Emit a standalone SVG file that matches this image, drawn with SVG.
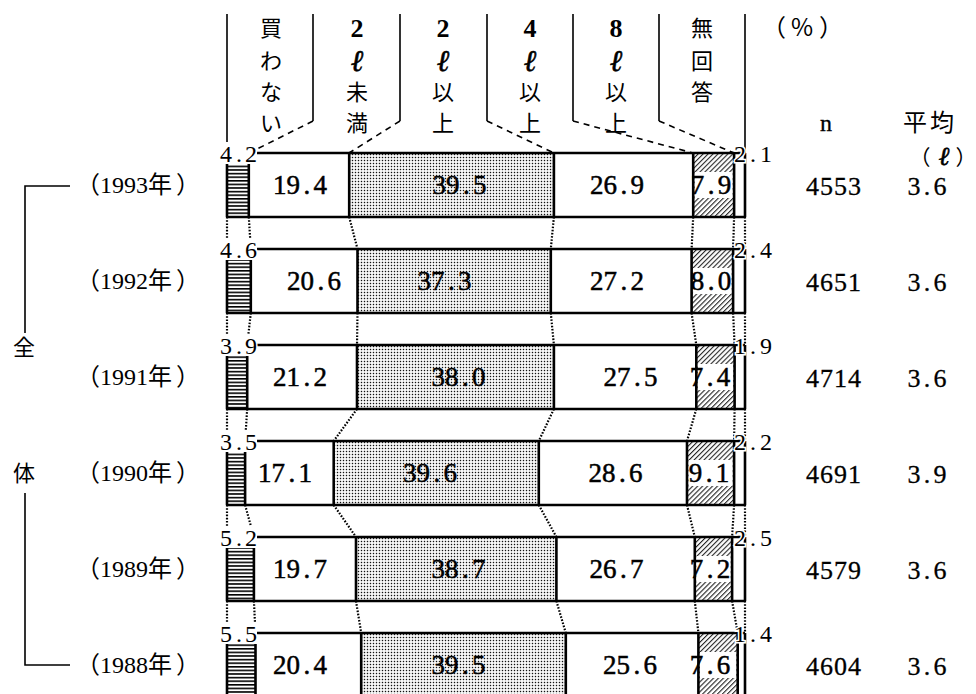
<svg xmlns="http://www.w3.org/2000/svg" width="976" height="694" viewBox="0 0 976 694">
<style>
.bg{fill:#fff}
.ol{fill:none;stroke:#000;stroke-width:2.6}
.thin{fill:none;stroke:#000;stroke-width:1.6}
.dash{fill:none;stroke:#000;stroke-width:1.6;stroke-dasharray:6 5}
.dot{fill:none;stroke:#000;stroke-width:2.2;stroke-dasharray:1.6 1.6}
.num{font-family:'Liberation Serif',serif;font-size:27px;text-anchor:middle;fill:#000;stroke:#000;stroke-width:0.5}
.sm{font-family:'Liberation Serif',serif;font-size:24px;text-anchor:middle;fill:#000;stroke:#fff;stroke-width:3;paint-order:stroke}
.yr{font-family:'Liberation Serif','Noto Sans CJK JP',serif;font-size:24px;fill:#000}
.cj{font-family:'Noto Sans CJK JP',sans-serif;font-size:22px;text-anchor:middle;fill:#000}
.hd{font-family:'Liberation Serif',serif;font-size:26px;font-weight:bold;text-anchor:middle;fill:#000}
.el{font-family:'Liberation Serif',serif;font-size:30px;font-style:italic;text-anchor:middle;fill:#000;stroke:#000;stroke-width:0.6}
.rt{font-family:'Liberation Serif',serif;font-size:26px;text-anchor:middle;fill:#000;stroke:#000;stroke-width:0.3}
</style>
<defs>
<pattern id="stripes" width="6" height="3.6" patternUnits="userSpaceOnUse"><rect width="6" height="1.6" fill="#000"/></pattern>
<pattern id="dots" width="3" height="3" patternUnits="userSpaceOnUse"><rect x="0.8" y="0.8" width="1.4" height="1.4" fill="#111"/></pattern>
<pattern id="diag" width="3.5" height="3.5" patternUnits="userSpaceOnUse" patternTransform="rotate(45)"><rect width="1.1" height="3.5" fill="#222"/></pattern>
</defs>
<rect width="976" height="694" fill="#fff"/>

<g id="header">
<path class="thin" d="M227 14V153M313 14V121M400 14V121M487 14V121M573 14V121M659 14V121M745 14V153"/>
<text class="cj" x="271" y="36">買</text><text class="cj" x="271" y="69">わ</text><text class="cj" x="271" y="100">な</text><text class="cj" x="271" y="131">い</text>
<text class="hd" x="357" y="37">2</text><text class="el" x="357" y="71">ℓ</text><text class="cj" x="357" y="100">未</text><text class="cj" x="357" y="131">満</text>
<text class="hd" x="443" y="37">2</text><text class="el" x="443" y="71">ℓ</text><text class="cj" x="443" y="100">以</text><text class="cj" x="443" y="131">上</text>
<text class="hd" x="530" y="37">4</text><text class="el" x="530" y="71">ℓ</text><text class="cj" x="530" y="100">以</text><text class="cj" x="530" y="131">上</text>
<text class="hd" x="616" y="37">8</text><text class="el" x="616" y="71">ℓ</text><text class="cj" x="616" y="100">以</text><text class="cj" x="616" y="131">上</text>
<text class="cj" x="702" y="36">無</text><text class="cj" x="702" y="69">回</text><text class="cj" x="702" y="100">答</text>
<text class="cj" x="774 802 831" y="36" style="font-size:24px">（%）</text>
<text class="rt" x="826" y="131" style="font-size:24px">n</text>
<text class="cj" x="930" y="131" style="font-size:24px;letter-spacing:3px">平均</text>
<text class="cj" x="920 944 966" y="165" style="font-size:21px">（<tspan class="el" style="font-size:26px">ℓ</tspan>）</text>
</g>

<g id="bracket">
<path class="thin" d="M70 186H25V333M25 493V665H70"/>
<text class="cj" x="24" y="355">全</text>
<text class="cj" x="24" y="481">体</text>
</g>

<g id="connectors">
<path class="dash" d="M313 121L249 153M400 121L349 153M487 121L554 153M573 121L693 153M659 121L734 153"/>
<path class="dot" d="M227 217V249M248.8 217L250.8 249M349.2 217L357.5 249M553.9 217L550.8 249M693.2 217L691.6 249M734.1 217L733.1 249M745 217V249"/>
<path class="dot" d="M227 313V345M250.8 313L247.2 345M357.5 313L357 345M550.8 313L553.9 345M691.6 313L696.3 345M733.1 313L734.6 345M745 313V345"/>
<path class="dot" d="M227 409V441M247.2 409L245.1 441M357 409L333.7 441M553.9 409L538.8 441M696.3 409L687 441M734.6 409L734.1 441M745 409V441"/>
<path class="dot" d="M227 505V537M245.1 505L253.9 537M333.7 505L356 537M538.8 505L556.4 537M687 505L694.8 537M734.1 505L732.1 537M745 505V537"/>
<path class="dot" d="M227 601V633M253.9 601L255.5 633M356 601L361.2 633M556.4 601L565.8 633M694.8 601L698.4 633M732.1 601L737.7 633M745 601V633"/>
</g>

<g id="row-1993">
<rect x="227" y="153" width="21.8" height="64" fill="url(#stripes)"/>
<rect x="349.2" y="153" width="204.7" height="64" fill="url(#dots)"/>
<rect x="693.2" y="153" width="40.9" height="64" fill="url(#diag)"/>
<rect class="bg" x="694.7" y="172" width="37.9" height="26"/>
<path class="ol" d="M227 153H745M227 217H745M227 153V217M248.8 153V217M349.2 153V217M553.9 153V217M693.2 153V217M734.1 153V217M745 153V217"/>
<rect class="bg" x="213" y="142" width="44" height="22"/>
<text class="sm" x="226 239 251" y="162">4.2</text>
<text class="sm" x="740 753 766" y="162">2.1</text>
<text class="yr" x="76" y="193">（1993年<tspan dx="4">）</tspan></text>
<text class="num" x="279.75 293.25 306.75 320.25" y="194">19.4</text>
<text class="num" x="439.25 452.75 466.25 479.75" y="194">39.5</text>
<text class="num" x="596.75 610.25 623.75 637.25" y="194">26.9</text>
<text class="num" x="697.5 711 724.5" y="194">7.9</text>
<text class="rt" x="834" y="195" style="letter-spacing:1px">4553</text>
<text class="rt" x="914 927 940" y="195">3.6</text>
</g>

<g id="row-1992">
<rect x="227" y="249" width="23.8" height="64" fill="url(#stripes)"/>
<rect x="357.5" y="249" width="193.3" height="64" fill="url(#dots)"/>
<rect x="691.6" y="249" width="41.5" height="64" fill="url(#diag)"/>
<rect class="bg" x="693.1" y="268" width="38.5" height="26"/>
<path class="ol" d="M227 249H745M227 313H745M227 249V313M250.8 249V313M357.5 249V313M550.8 249V313M691.6 249V313M733.1 249V313M745 249V313"/>
<rect class="bg" x="213" y="238" width="44" height="22"/>
<text class="sm" x="226 239 251" y="258">4.6</text>
<text class="sm" x="740 753 766" y="258">2.4</text>
<text class="yr" x="76" y="289">（1992年<tspan dx="4">）</tspan></text>
<text class="num" x="293.75 307.25 320.75 334.25" y="290">20.6</text>
<text class="num" x="424.25 437.75 451.25 464.75" y="290">37.3</text>
<text class="num" x="596.75 610.25 623.75 637.25" y="290">27.2</text>
<text class="num" x="697.5 711 724.5" y="290">8.0</text>
<text class="rt" x="834" y="291" style="letter-spacing:1px">4651</text>
<text class="rt" x="914 927 940" y="291">3.6</text>
</g>

<g id="row-1991">
<rect x="227" y="345" width="20.2" height="64" fill="url(#stripes)"/>
<rect x="357" y="345" width="196.9" height="64" fill="url(#dots)"/>
<rect x="696.3" y="345" width="38.3" height="64" fill="url(#diag)"/>
<rect class="bg" x="697.8" y="364" width="35.3" height="26"/>
<path class="ol" d="M227 345H745M227 409H745M227 345V409M247.2 345V409M357 345V409M553.9 345V409M696.3 345V409M734.6 345V409M745 345V409"/>
<rect class="bg" x="213" y="334" width="44" height="22"/>
<text class="sm" x="226 239 251" y="354">3.9</text>
<text class="sm" x="740 753 766" y="354">1.9</text>
<text class="yr" x="76" y="385">（1991年<tspan dx="4">）</tspan></text>
<text class="num" x="279.75 293.25 306.75 320.25" y="386">21.2</text>
<text class="num" x="438.25 451.75 465.25 478.75" y="386">38.0</text>
<text class="num" x="610.25 623.75 637.25 650.75" y="386">27.5</text>
<text class="num" x="696.5 710 723.5" y="386">7.4</text>
<text class="rt" x="834" y="387" style="letter-spacing:1px">4714</text>
<text class="rt" x="914 927 940" y="387">3.6</text>
</g>

<g id="row-1990">
<rect x="227" y="441" width="18.1" height="64" fill="url(#stripes)"/>
<rect x="333.7" y="441" width="205.1" height="64" fill="url(#dots)"/>
<rect x="687" y="441" width="47.1" height="64" fill="url(#diag)"/>
<rect class="bg" x="688.5" y="460" width="44.1" height="26"/>
<path class="ol" d="M227 441H745M227 505H745M227 441V505M245.1 441V505M333.7 441V505M538.8 441V505M687 441V505M734.1 441V505M745 441V505"/>
<rect class="bg" x="213" y="430" width="44" height="22"/>
<text class="sm" x="226 239 251" y="450">3.5</text>
<text class="sm" x="740 753 766" y="450">2.2</text>
<text class="yr" x="76" y="481">（1990年<tspan dx="4">）</tspan></text>
<text class="num" x="264.75 278.25 291.75 305.25" y="482">17.1</text>
<text class="num" x="409.75 423.25 436.75 450.25" y="482">39.6</text>
<text class="num" x="595.25 608.75 622.25 635.75" y="482">28.6</text>
<text class="num" x="695.5 709 722.5" y="482">9.1</text>
<text class="rt" x="834" y="483" style="letter-spacing:1px">4691</text>
<text class="rt" x="914 927 940" y="483">3.9</text>
</g>

<g id="row-1989">
<rect x="227" y="537" width="26.9" height="64" fill="url(#stripes)"/>
<rect x="356" y="537" width="200.4" height="64" fill="url(#dots)"/>
<rect x="694.8" y="537" width="37.3" height="64" fill="url(#diag)"/>
<rect class="bg" x="696.3" y="556" width="34.3" height="26"/>
<path class="ol" d="M227 537H745M227 601H745M227 537V601M253.9 537V601M356 537V601M556.4 537V601M694.8 537V601M732.1 537V601M745 537V601"/>
<rect class="bg" x="213" y="526" width="44" height="22"/>
<text class="sm" x="226 239 251" y="546">5.2</text>
<text class="sm" x="740 753 766" y="546">2.5</text>
<text class="yr" x="76" y="577">（1989年<tspan dx="4">）</tspan></text>
<text class="num" x="279.75 293.25 306.75 320.25" y="578">19.7</text>
<text class="num" x="438.25 451.75 465.25 478.75" y="578">38.7</text>
<text class="num" x="596.25 609.75 623.25 636.75" y="578">26.7</text>
<text class="num" x="696.5 710 723.5" y="578">7.2</text>
<text class="rt" x="834" y="579" style="letter-spacing:1px">4579</text>
<text class="rt" x="914 927 940" y="579">3.6</text>
</g>

<g id="row-1988">
<rect x="227" y="633" width="28.5" height="64" fill="url(#stripes)"/>
<rect x="361.2" y="633" width="204.6" height="64" fill="url(#dots)"/>
<rect x="698.4" y="633" width="39.3" height="64" fill="url(#diag)"/>
<rect class="bg" x="699.9" y="652" width="36.3" height="26"/>
<path class="ol" d="M227 633H745M227 697H745M227 633V697M255.5 633V697M361.2 633V697M565.8 633V697M698.4 633V697M737.7 633V697M745 633V697"/>
<rect class="bg" x="213" y="622" width="44" height="22"/>
<text class="sm" x="226 239 251" y="642">5.5</text>
<text class="sm" x="740 753 766" y="642">1.4</text>
<text class="yr" x="76" y="673">（1988年<tspan dx="4">）</tspan></text>
<text class="num" x="279.75 293.25 306.75 320.25" y="674">20.4</text>
<text class="num" x="438.25 451.75 465.25 478.75" y="674">39.5</text>
<text class="num" x="609.75 623.25 636.75 650.25" y="674">25.6</text>
<text class="num" x="696.5 710 723.5" y="674">7.6</text>
<text class="rt" x="834" y="675" style="letter-spacing:1px">4604</text>
<text class="rt" x="914 927 940" y="675">3.6</text>
</g>
</svg>
